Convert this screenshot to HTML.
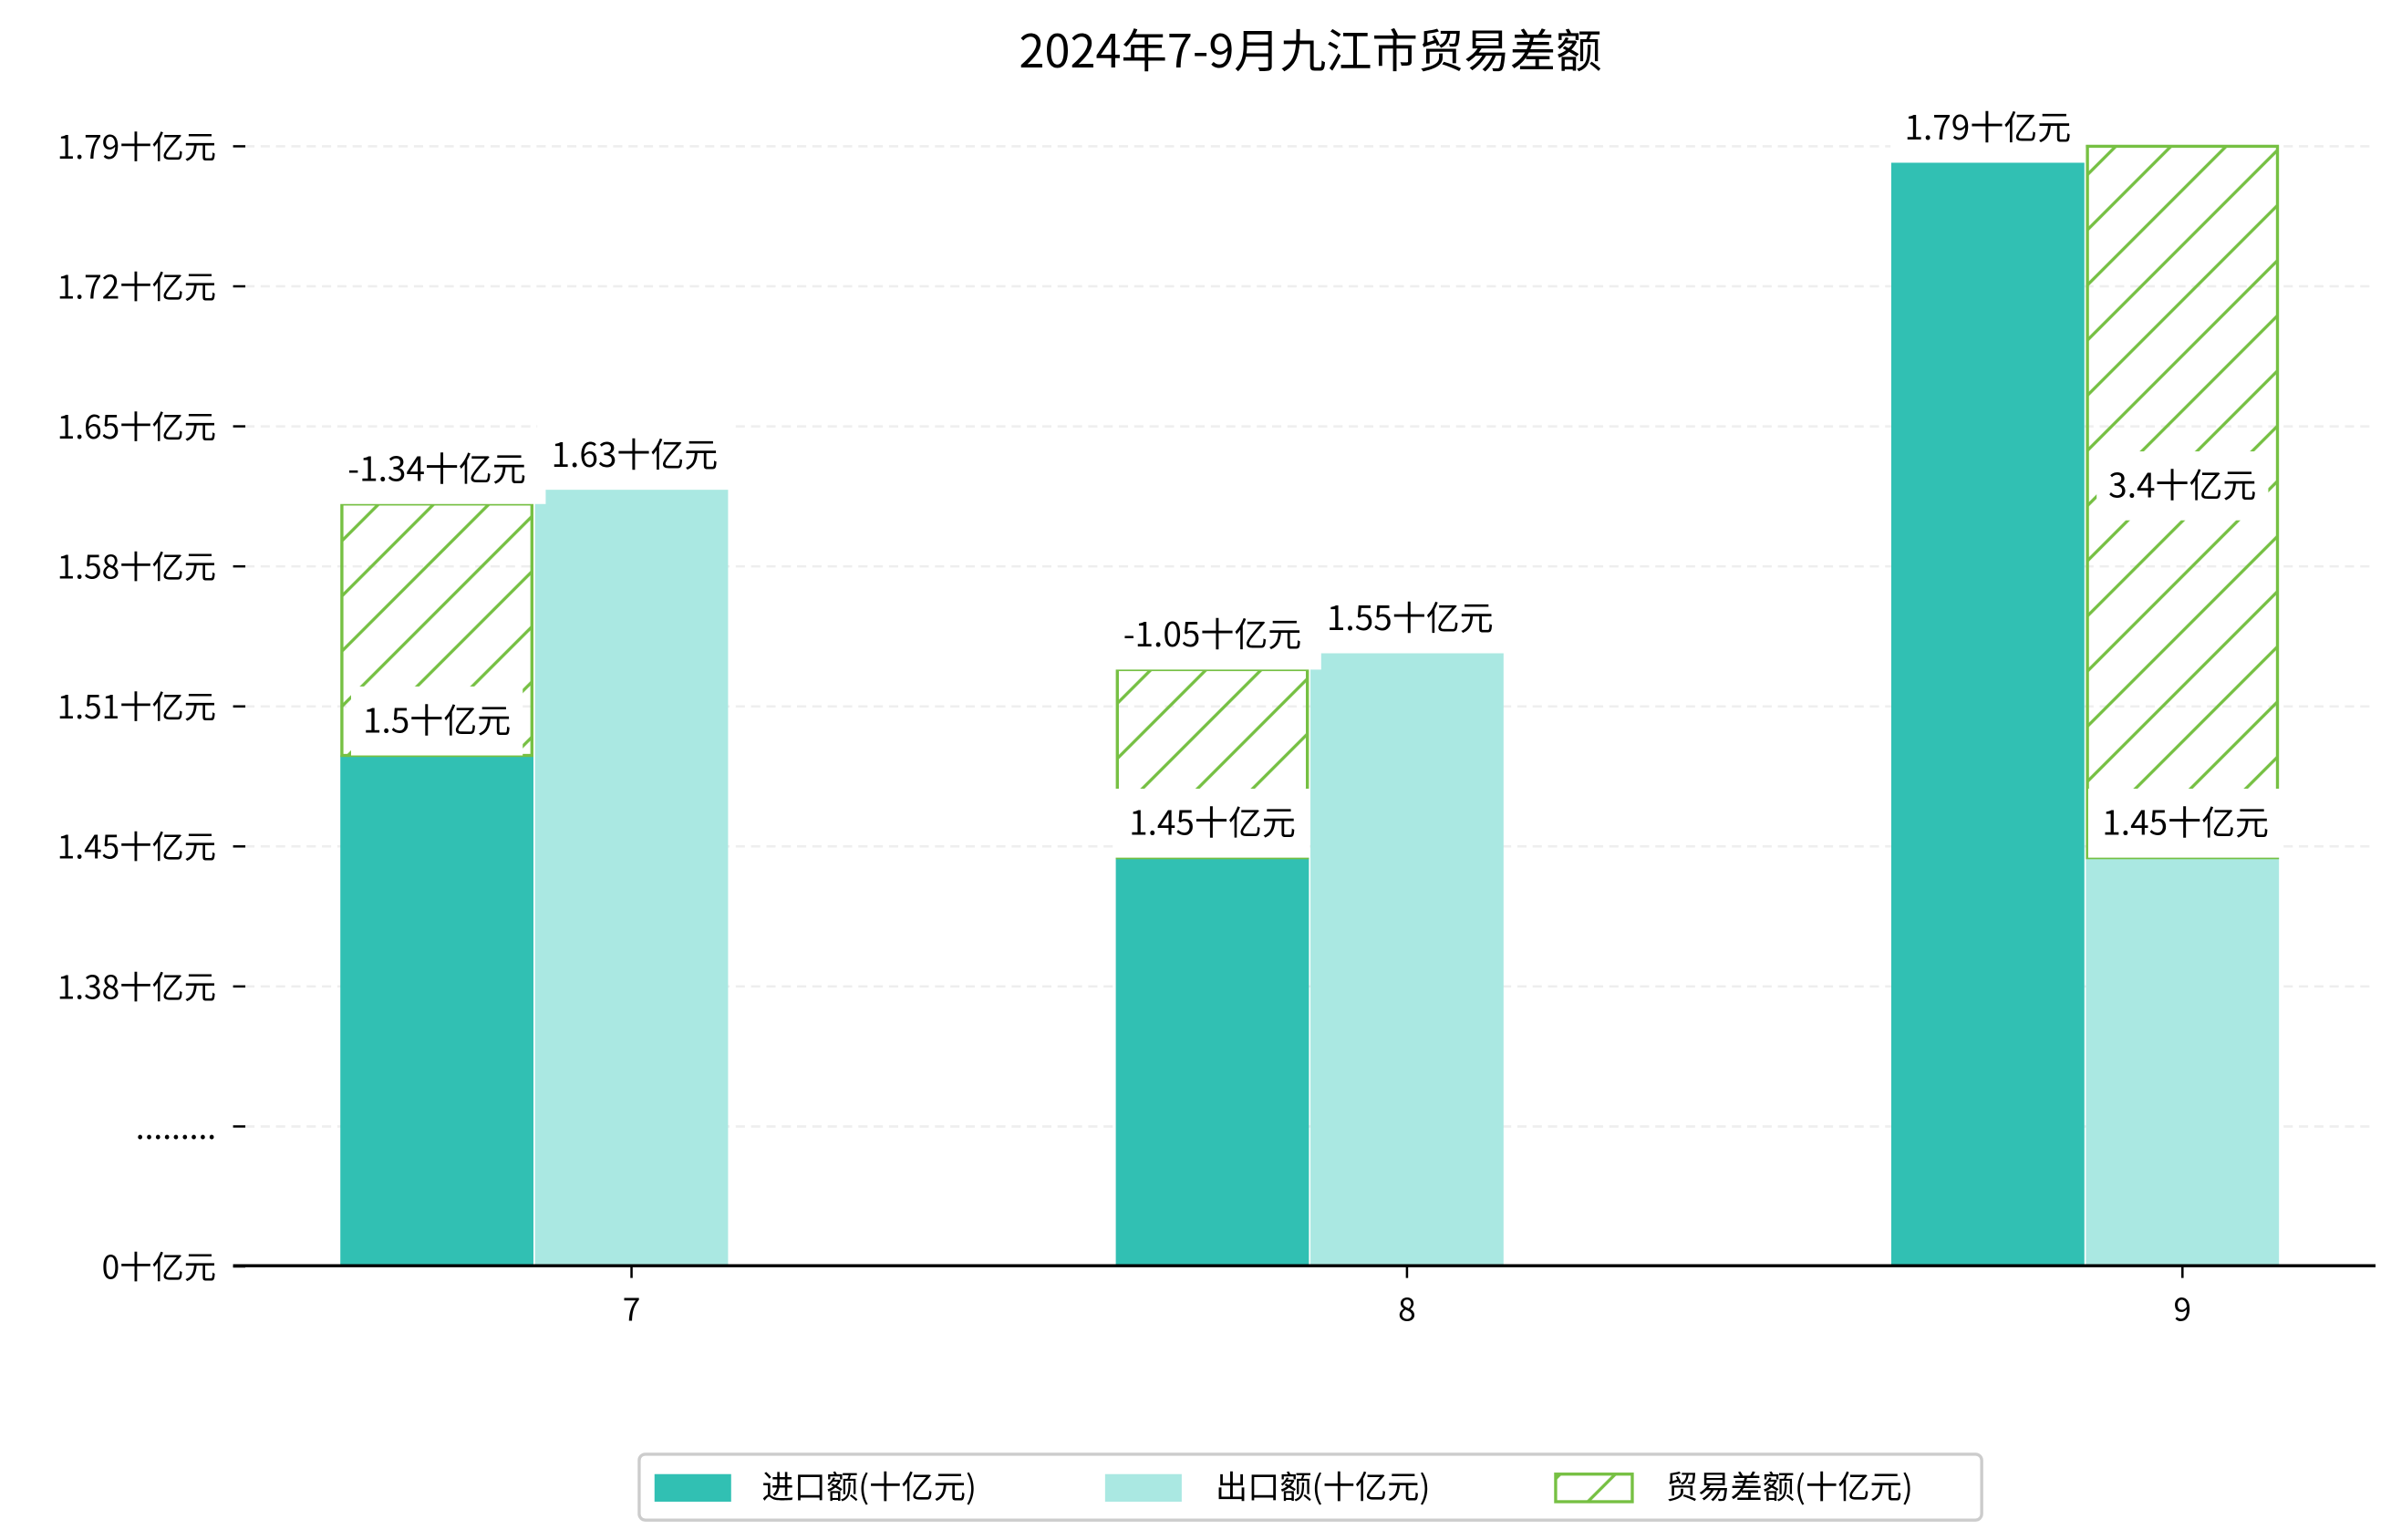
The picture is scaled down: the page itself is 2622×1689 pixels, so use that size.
<!DOCTYPE html>
<html><head><meta charset="utf-8"><style>
html,body{margin:0;padding:0;background:#fff}
svg{display:block}
text{font-family:"WenQuanYi Zen Hei","Noto Sans CJK SC","Liberation Sans",sans-serif;fill:#000}
</style></head><body>
<svg id="chart" width="2622" height="1689" viewBox="0 0 1560 1005" xmlns="http://www.w3.org/2000/svg">
<defs>
<pattern id="hatch" patternUnits="userSpaceOnUse" width="36" height="36">
<path d="M-9,9 L9,-9 M0,36 L36,0 M27,45 L45,27" stroke="#76c043" stroke-width="2"/>
</pattern>
</defs>
<text x="855" y="44" font-size="30" text-anchor="middle">2024年7-9月九江市贸易差额</text>
<g id="grid"></g>
<g id="bars"></g>
<g id="labels"></g>
<line x1="152" y1="826" x2="1550" y2="826" stroke="#000" stroke-width="2"/>
<g id="axes"></g>
<g>
<rect x="417" y="949" width="876" height="43" rx="4" fill="#fff" stroke="#ccc" stroke-width="2"/>
<rect x="427" y="962" width="50" height="18" fill="#31c0b3"/>
<text x="497" y="978" font-size="21">进口额(十亿元)</text>
<rect x="721" y="962" width="50" height="18" fill="#aae8e2"/>
<text x="793" y="978" font-size="21">出口额(十亿元)</text>
<rect x="1015" y="962" width="50" height="18" fill="url(#hatch)" stroke="#76c043" stroke-width="2"/>
<text x="1087" y="978" font-size="21">贸易差额(十亿元)</text>
</g>
</svg>
<script>
const categories = ['7','8','9'];
const importVals = [1.5, 1.45, 1.79];
const exportVals = [1.63, 1.55, 1.45];
const balanceTop = [1.623, 1.542, 1.798];
const balanceBase = [1.5, 1.45, 1.45];
const balanceSlot = [0, 0, 1];
const balanceLabels = ['-1.34十亿元', '-1.05十亿元', '3.4十亿元'];
const importLabels = ['1.5十亿元', '1.45十亿元', '1.79十亿元'];
const exportLabels = ['1.63十亿元', '1.55十亿元', '1.45十亿元'];
const tickValues = [1.25, 1.3185, 1.387, 1.4555, 1.524, 1.5925, 1.661, 1.7295, 1.798];
const tickLabels = ['0十亿元', '.........', '1.38十亿元', '1.45十亿元', '1.51十亿元', '1.58十亿元', '1.65十亿元', '1.72十亿元', '1.79十亿元'];

const NS = 'http://www.w3.org/2000/svg';
function y(v){ return 493 - (v - 1.5) * 1334; }
function xc(i){ return 412 + i * 506; }
const BW = 126;
function slotX(i, s){ return xc(i) - 190 + s * BW + (s > 0 ? 1 : 0); }
function mk(tag, attrs, parent){
  const e = document.createElementNS(NS, tag);
  for (const k in attrs) e.setAttribute(k, attrs[k]);
  parent.appendChild(e);
  return e;
}
const grid = document.getElementById('grid');
const bars = document.getElementById('bars');
const labels = document.getElementById('labels');
const axes = document.getElementById('axes');

tickValues.forEach((v, i) => {
  const yy = y(v);
  if (i > 0) {
    const g = mk('line', {x1:160, x2:1550, y1:yy, y2:yy, stroke:'#eeeeee', 'stroke-width':1.5, 'stroke-dasharray':'6,4'}, grid);
    
    
  }
  const t = mk('line', {x1:152, x2:160, y1:yy, y2:yy, stroke:'#000', 'stroke-width':1.5}, axes);
  
  
  const l = mk('text', {x:141, y:yy + 8, 'font-size':21, 'text-anchor':'end'}, axes);
  l.textContent = tickLabels[i];
  
  
});

function label(txt, cx, bottom, name){
  const w = txt.length * 15 + 22;
  const r = mk('rect', {x:cx - w/2, y:bottom - 45, width:w, height:45, fill:'#fff'}, labels);
  
  
  const t = mk('text', {x:cx, y:bottom - 15, 'font-size':22, 'text-anchor':'middle'}, labels);
  t.textContent = txt;
  
  
}

categories.forEach((c, i) => {
  const base = y(tickValues[0]);
  const bi = mk('rect', {x:slotX(i,0), y:y(importVals[i]), width:BW, height:base - y(importVals[i]), fill:'#31c0b3'}, bars);
  
  
  const be = mk('rect', {x:slotX(i,1), y:y(exportVals[i]), width:BW, height:base - y(exportVals[i]), fill:'#aae8e2'}, bars);
  
  
  const bx = slotX(i, balanceSlot[i]);
  const bb = mk('rect', {x:bx + 1, y:y(balanceTop[i]), width:BW - 2, height:y(balanceBase[i]) - y(balanceTop[i]), fill:'url(#hatch)', stroke:'#76c043', 'stroke-width':2}, bars);
  
  

  const tk = mk('line', {x1:xc(i), x2:xc(i), y1:826, y2:834, stroke:'#000', 'stroke-width':1.5}, axes);
  
  
  const xl = mk('text', {x:xc(i), y:862, 'font-size':21, 'text-anchor':'middle'}, axes);
  xl.textContent = c;
  
  
});
categories.forEach((c, i) => {
  label(exportLabels[i], slotX(i,1) + BW/2 + 2, y(exportVals[i]), 'label-export-' + c);
  label(importLabels[i], slotX(i,0) + BW/2, y(importVals[i]), 'label-import-' + c);
});
categories.forEach((c, i) => {
  const top = y(balanceTop[i]), bot = y(balanceBase[i]);
  const h = bot - top;
  const by = h > 200 ? (top + bot) / 2 + 12 : top;
  label(balanceLabels[i], slotX(i, balanceSlot[i]) + BW/2, by, 'label-balance-' + c);
});
</script>
</body></html>
